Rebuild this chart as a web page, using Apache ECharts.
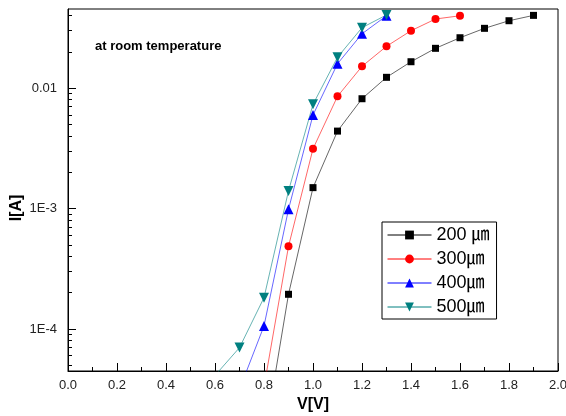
<!DOCTYPE html>
<html><head><meta charset="utf-8">
<script src="https://cdn.jsdelivr.net/npm/echarts@6/dist/echarts.min.js"></script>
<style>html,body{margin:0;padding:0;background:#fff}#c{width:566px;height:416px}</style>
</head><body><div id="c"></div>
<script>
// ---- data ----
const seriesNames = ['200 ㎛', '300㎛', '400㎛', '500㎛'];
const v200 = [0.8, 0.9, 1.0, 1.1, 1.2, 1.3, 1.4, 1.5, 1.6, 1.7, 1.8, 1.9];
const i200 = [1.16e-5, 1.94e-4, 1.49e-3, 4.39e-3, 8.15e-3, 0.01227, 0.01653, 0.02136, 0.02615, 0.0313, 0.0362, 0.0401];
const v300 = [0.8, 0.9, 1.0, 1.1, 1.2, 1.3, 1.4, 1.5, 1.6];
const i300 = [3.3e-5, 4.85e-4, 3.13e-3, 8.53e-3, 0.01514, 0.0222, 0.0299, 0.0374, 0.0398];
const v400 = [0.7, 0.8, 0.9, 1.0, 1.1, 1.2, 1.3];
const i400 = [3.15e-5, 1.06e-4, 9.84e-4, 5.97e-3, 0.0159, 0.0282, 0.0398];
const v500 = [0.6, 0.7, 0.8, 0.9, 1.0, 1.1, 1.2, 1.3];
const i500 = [4.11e-5, 7.0e-5, 1.82e-4, 1.40e-3, 7.32e-3, 0.0180, 0.0317, 0.0404];

const xTickLabels = ['0.0', '0.2', '0.4', '0.6', '0.8', '1.0', '1.2', '1.4', '1.6', '1.8', '2.0'];
const yTickValues = [1e-4, 1e-3, 1e-2];
const yTickLabels = ['1E-4', '1E-3', '0.01'];
const yMinorTickValues = [5e-5, 6e-5, 7e-5, 8e-5, 9e-5, 2e-4, 3e-4, 4e-4, 5e-4, 6e-4, 7e-4, 8e-4, 9e-4,
  2e-3, 3e-3, 4e-3, 5e-3, 6e-3, 7e-3, 8e-3, 9e-3, 2e-2, 3e-2, 4e-2];
const annotation = 'at room temperature';
const xName = 'V[V]';
const yName = 'I[A]';

const yMin = 4.477e-5, yMax = 0.04529;

const zip = (xs, ys) => xs.map((x, k) => [x, ys[k]]);
const font = "'Liberation Sans', Arial, sans-serif";
const legendFont = "'Liberation Sans', 'Noto Sans CJK KR', sans-serif";

const styles = [
  {color: '#000000', symbol: 'rect', size: 7, rotate: 0},
  {color: '#ff0000', symbol: 'circle', size: 8, rotate: 0},
  {color: '#0000ff', symbol: 'triangle', size: 10, rotate: 0},
  {color: '#008080', symbol: 'triangle', size: 10, rotate: 180}
];
const dataSets = [zip(v200, i200), zip(v300, i300), zip(v400, i400), zip(v500, i500)];

const chart = echarts.init(document.getElementById('c'), null, {renderer: 'canvas'});
chart.setOption({
  animation: false,
  backgroundColor: '#fff',
  grid: {left: 68, right: 8, top: 9, bottom: 45, show: true, borderColor: '#000', borderWidth: 1,
    backgroundColor: 'transparent', containLabel: false, outerBoundsMode: 'none'},
  xAxis: {
    type: 'value', min: 0, max: 2, interval: 0.2,
    axisLine: {show: true, lineStyle: {color: '#000', width: 1}},
    axisTick: {show: true, inside: true, length: 8, lineStyle: {color: '#000'}},
    minorTick: {show: true, splitNumber: 2, length: 4, lineStyle: {color: '#000'}},
    splitLine: {show: false},
    axisLabel: {
      margin: 8, color: '#222', fontSize: 13, fontFamily: font, hideOverlap: false,
      formatter: v => xTickLabels[Math.round(v / 0.2)] || ''
    },
    name: xName, nameLocation: 'middle', nameGap: 25,
    nameTextStyle: {fontSize: 16, fontWeight: 'bold', color: '#000', fontFamily: font}
  },
  yAxis: [{
    type: 'log', logBase: 10, min: yMin, max: yMax,
    axisLine: {show: true, lineStyle: {color: '#000', width: 1}},
    axisTick: {show: true, inside: true, length: 8, lineStyle: {color: '#000'}},
    splitLine: {show: false},
    axisLabel: {
      margin: 11, color: '#222', fontSize: 13, fontFamily: font,
      showMinLabel: false, showMaxLabel: false,
      formatter: v => {
        for (let k = 0; k < yTickValues.length; k++) {
          if (Math.abs(Math.log10(v) - Math.log10(yTickValues[k])) < 1e-6) return yTickLabels[k];
        }
        return '';
      }
    }
  }, {
    type: 'value', position: 'left', min: Math.log10(yMin), max: Math.log10(yMax),
    axisLine: {show: false},
    axisLabel: {show: false},
    splitLine: {show: false},
    axisTick: {show: true, inside: true, length: 4, lineStyle: {color: '#000'},
      customValues: yMinorTickValues.map(v => Math.log10(v))}
  }],
  legend: {
    left: 382, top: 222, orient: 'vertical',
    data: seriesNames,
    itemWidth: 44, itemHeight: 11, itemGap: 6, itemTextGap: 5,
    padding: [4, 7, 3, 5],
    borderColor: '#000', borderWidth: 1, backgroundColor: '#fff',
    textStyle: {fontSize: 18, lineHeight: 18, color: '#000', fontFamily: legendFont},
    lineStyle: {opacity: 1, width: 1}
  },
  graphic: [
    {type: 'text', left: 95, top: 40, style: {text: annotation, fill: '#000', font: "bold 13px 'Liberation Sans', Arial, sans-serif"}},
    {type: 'text', x: 17, y: 208, rotation: Math.PI / 2,
      style: {text: yName, align: 'center', verticalAlign: 'middle', fill: '#000', font: "bold 16px 'Liberation Sans', Arial, sans-serif"}}
  ],
  series: seriesNames.map((name, k) => ({
    name: name, type: 'line', yAxisIndex: 0,
    data: dataSets[k],
    symbol: styles[k].symbol, symbolSize: styles[k].size, symbolRotate: styles[k].rotate,
    showAllSymbol: true, clip: true,
    lineStyle: {color: styles[k].color, width: 1, opacity: 0.6},
    itemStyle: {color: styles[k].color}
  }))
});
</script></body></html>
